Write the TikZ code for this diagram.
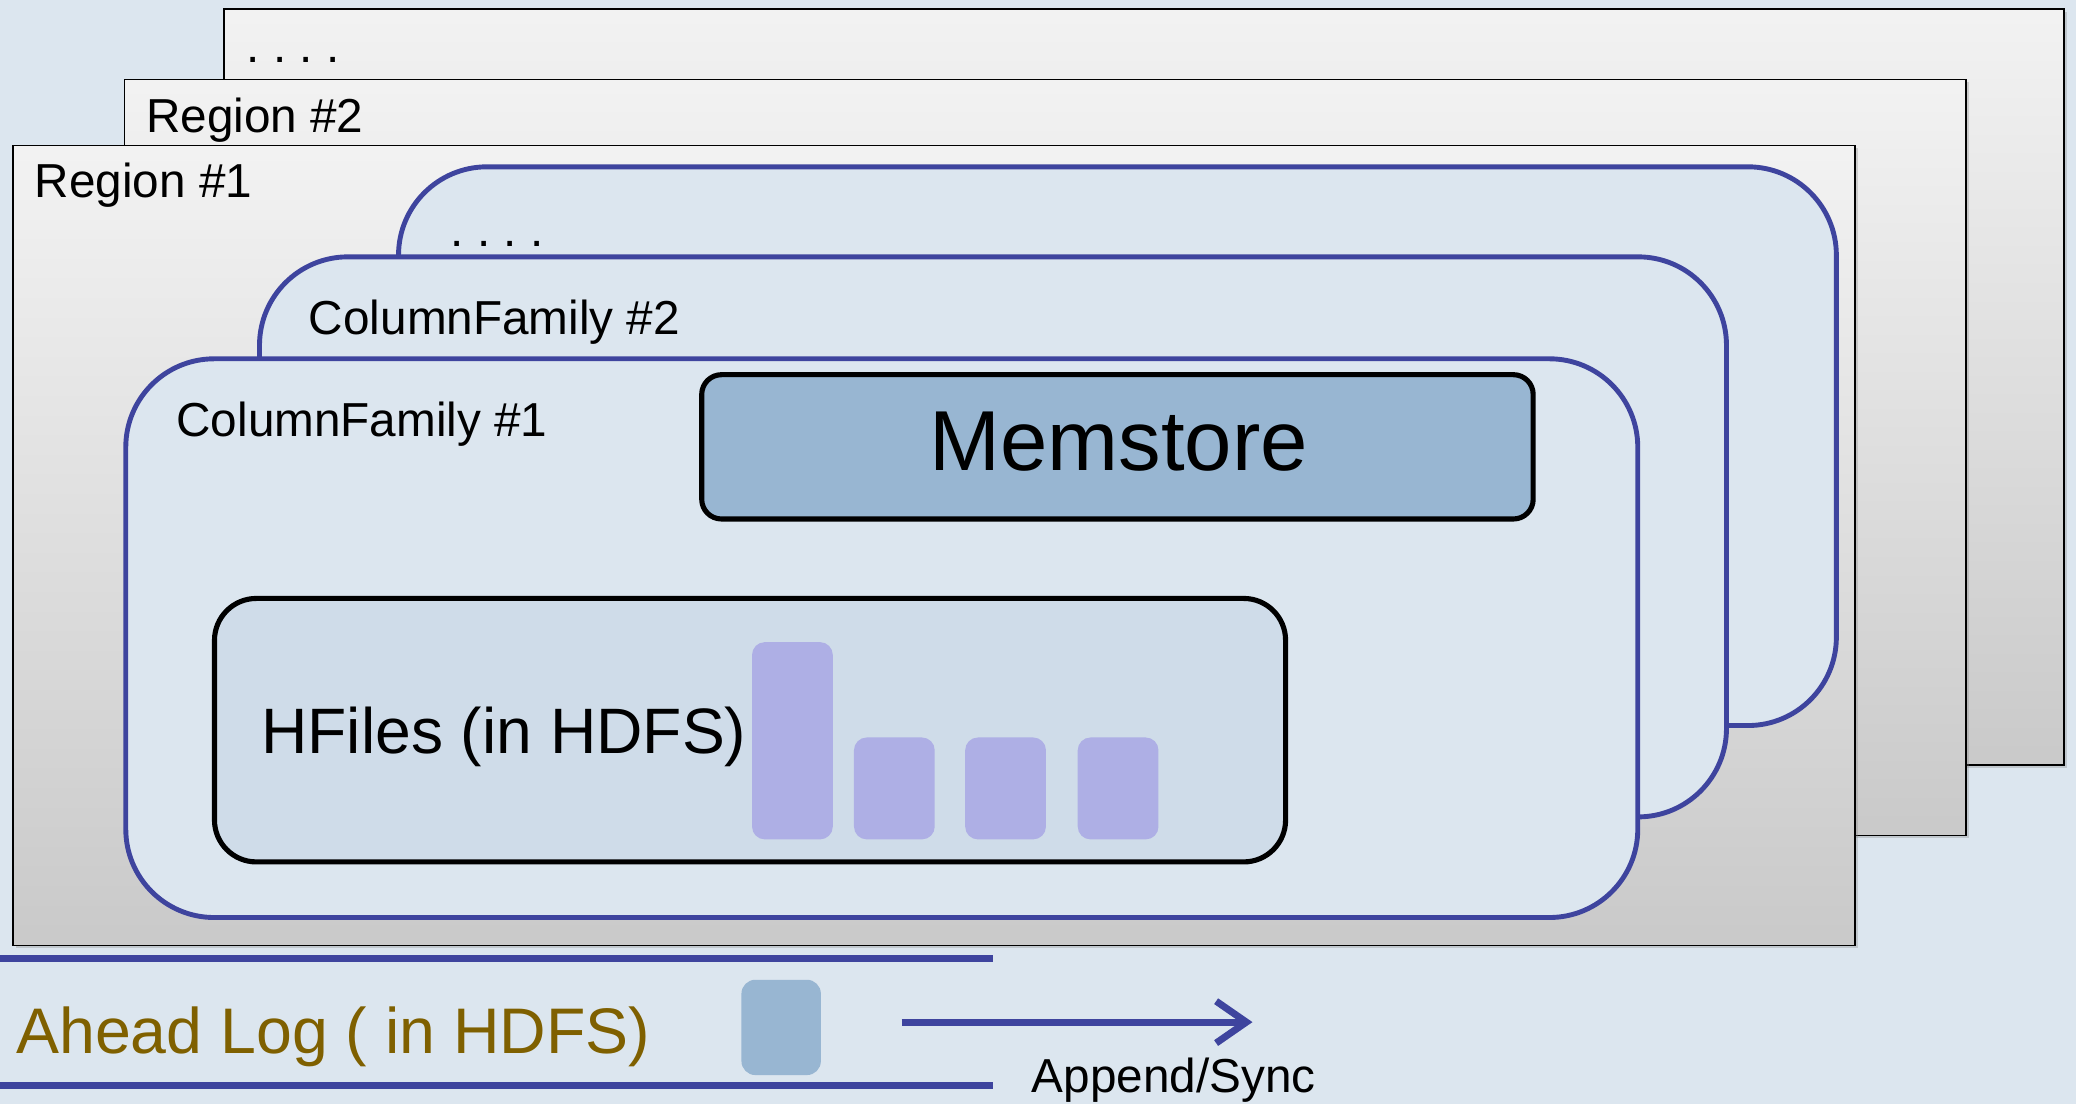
\documentclass[tikz,border=0pt]{standalone}
\usepackage{fontspec}
\setmainfont{Liberation Sans}
\usetikzlibrary{arrows.meta,shadows}
\definecolor{bgblue}{RGB}{220,230,239}
\definecolor{cfline}{RGB}{62,68,158}
\definecolor{memfill}{RGB}{152,182,210}
\definecolor{hffill}{RGB}{207,220,233}
\definecolor{barfill}{RGB}{174,175,229}
\definecolor{logtext}{RGB}{127,96,0}

\begin{document}
\begin{tikzpicture}
[x=0.02cm,y=-0.02cm,
region/.style={draw=black,line width=0.7pt,top color=black!5,bottom color=black!21,
  drop shadow={shadow xshift=1.2pt,shadow yshift=-1.2pt,opacity=.3}},
family/.style={draw=cfline,line width=2.1pt,fill=bgblue,rounded corners=38pt},
lbl/.style={inner sep=0pt,anchor=base west,font=\fontsize{20.5}{24}\selectfont}]
\fill[bgblue] (0,0) rectangle (1568,834);
\useasboundingbox (0,0) rectangle (1568,834);
\foreach \xa/\ya/\xb/\yb in {169/7/1559/578,94/60/1485/631,10/110/1401/714}
\draw[region] (\xa,\ya) rectangle (\xb,\yb);
\node[lbl] (r3) at (186,47) {.\ .\ .\ .};
\node[lbl] (r2) at (110,100) {Region \#2};
\node[lbl] (r1) at (26,149.5) {Region \#1};
\foreach \xa/\ya/\xb/\yb in {301/126/1387/548,196/194/1304/617,95/271/1237/693}
\draw[family] (\xa,\ya) rectangle (\xb,\yb);
\node[lbl] (c3) at (340,186) {.\ .\ .\ .};
\node[lbl] (c2) at (233,253) {ColumnFamily \#2};
\node[lbl] (c1) at (133,330) {ColumnFamily \#1};
\draw[line width=2.2pt,fill=memfill,rounded corners=8.5pt] (530,283) rectangle (1158,392);
\node[lbl,anchor=base,font=\fontsize{36.6}{40}\selectfont] (mem) at (845,355) {Memstore};
\draw[line width=2.2pt,fill=hffill,rounded corners=18pt] (162,452) rectangle (971,651);
\node[lbl,font=\fontsize{27.6}{32}\selectfont] (hf) at (197,569) {HFiles (in HDFS)};
\foreach \xa/\ya in {568/485,645/557,729/557,814/557}
\fill[barfill,rounded corners=5.5pt] (\xa,\ya) rectangle ++(61,634-\ya);
\draw[cfline,line width=3pt] (0,724) -- (750,724) (0,820) -- (750,820);
\fill[memfill,rounded corners=6pt] (560,740) rectangle (620,812);
\node[lbl,text=logtext,font=\fontsize{27.7}{32}\selectfont] (wal) at (12,796) {Ahead Log ( in HDFS)};
\coordinate (s) at (681,772);
\coordinate (t) at (946,772);
\draw[cfline,line width=3pt,-{Straight Barb[length=13pt,width=18pt]}] (s) -- (t);
\node[lbl] (app) at (779,825) {Append/Sync};
\end{tikzpicture}
\end{document}
